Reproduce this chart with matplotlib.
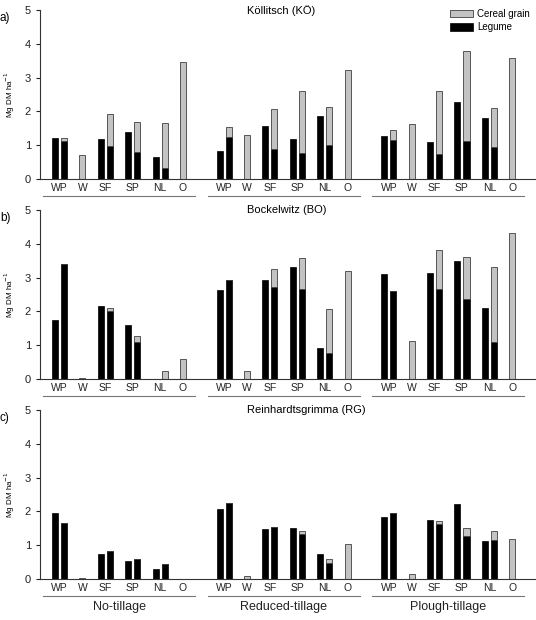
import numpy as np
import matplotlib
matplotlib.use("Agg")
import matplotlib.pyplot as plt

plt.rcParams['font.family'] = ['Liberation Sans', 'DejaVu Sans']

# categories
sites = ["Köllitsch (KÖ)", "Bockelwitz (BO)", "Reinhardtsgrimma (RG)"]
panel_tags = ["a)", "b)", "c)"]
tillages = ["No-tillage", "Reduced-tillage", "Plough-tillage"]
crop_labels = ["WP", "W", "SF", "SP", "NL", "O"]

# legume crops (WP, SF, SP, NL): sole legume, intercrop legume, intercrop cereal part
# cereal crops (W, O): sole cereal
# one row per tillage (no, reduced, plough)
ko_sole_leg = [[1.22, 1.18, 1.38, 0.66], [0.84, 1.57, 1.17, 1.85], [1.27, 1.08, 2.29, 1.80]]
ko_ic_leg = [[1.11, 0.99, 0.81, 0.33], [1.25, 0.89, 0.78, 1.02], [1.15, 0.73, 1.12, 0.96]]
ko_ic_cer = [[0.11, 0.93, 0.88, 1.34], [0.29, 1.19, 1.82, 1.10], [0.30, 1.86, 2.68, 1.14]]
ko_sole_cer = [[0.72, 3.46], [1.30, 3.22], [1.62, 3.59]]

bo_sole_leg = [[1.75, 2.16, 1.61, 0.0], [2.62, 2.92, 3.30, 0.92], [3.12, 3.13, 3.48, 2.11]]
bo_ic_leg = [[3.40, 2.00, 1.10, 0.0], [2.92, 2.73, 2.66, 0.76], [2.59, 2.66, 2.38, 1.08]]
bo_ic_cer = [[0.0, 0.09, 0.16, 0.24], [0.0, 0.52, 0.93, 1.31], [0.0, 1.17, 1.23, 2.22]]
bo_sole_cer = [[0.03, 0.59], [0.25, 3.20], [1.13, 4.33]]

rg_sole_leg = [[1.96, 0.73, 0.52, 0.30], [2.08, 1.49, 1.52, 0.74], [1.84, 1.74, 2.22, 1.13]]
rg_ic_leg = [[1.67, 0.83, 0.58, 0.43], [2.26, 1.53, 1.33, 0.46], [1.96, 1.63, 1.28, 1.15]]
rg_ic_cer = [[0.0, 0.0, 0.0, 0.0], [0.0, 0.0, 0.09, 0.12], [0.0, 0.10, 0.23, 0.27]]
rg_sole_cer = [[0.02, 0.0], [0.10, 1.05], [0.14, 1.17]]

all_data = [
    (ko_sole_leg, ko_ic_leg, ko_ic_cer, ko_sole_cer),
    (bo_sole_leg, bo_ic_leg, bo_ic_cer, bo_sole_cer),
    (rg_sole_leg, rg_ic_leg, rg_ic_cer, rg_sole_cer),
]

# slot layout inside one tillage block
leg_slots = np.array([0, 5, 8, 11])
cer_slots = np.array([3, 14])
label_slots = [0.5, 3, 5.5, 8.5, 11.5, 14]
block = 18
bw = 0.66
grey = "#c3c3c3"

fig = plt.figure(figsize=(5.36, 6.2), dpi=100)
tops = [10, 210, 410]
for i in range(3):
    top = 1 - tops[i] / 620
    ax = fig.add_axes([40 / 536, top - 169 / 620, 496 / 536, 169 / 620])
    sole_leg, ic_leg, ic_cer, sole_cer = all_data[i]
    for t in range(3):
        off = t * block
        ax.bar(leg_slots + off, sole_leg[t], bw, color="black", edgecolor="black", lw=0.5)
        ax.bar(leg_slots + 1 + off, ic_leg[t], bw, color="black", edgecolor="black", lw=0.5)
        ax.bar(leg_slots + 1 + off, ic_cer[t], bw, bottom=ic_leg[t], color=grey,
               edgecolor="#404040", lw=0.6)
        ax.bar(cer_slots + off, sole_cer[t], bw, color=grey, edgecolor="#404040", lw=0.6)
        # crop names
        for s, lab in zip(label_slots, crop_labels):
            ax.text(s + off, -0.055, lab, transform=ax.get_xaxis_transform(),
                    ha="center", va="center", fontsize=7.5, color="#222222")
        ax.plot([off - 1.3, off + 15.3], [-0.102, -0.102], color="#777777", lw=0.8,
                transform=ax.get_xaxis_transform(), clip_on=False)
        if i == 2:
            ax.text(off + 7, -0.165, tillages[t], transform=ax.get_xaxis_transform(),
                    ha="center", va="center", fontsize=9, color="#222222")

    ax.set_xlim(-1.64, 52.6)
    ax.set_ylim(0, 5)
    ax.set_yticks(range(6))
    ax.set_xticks([])
    ax.spines["top"].set_visible(False)
    ax.spines["right"].set_visible(False)
    ax.spines["left"].set_color("#333333")
    ax.spines["bottom"].set_color("#333333")
    ax.tick_params(axis="y", labelsize=8, length=3, colors="#222222")
    ax.set_ylabel("Mg DM ha$^{-1}$", fontsize=5.8)
    ax.yaxis.set_label_coords(-0.046, 0.5)
    ax.text(0.417, 1.03, sites[i], transform=ax.transAxes, ha="left", va="top", fontsize=8)
    fig.text(0.0, top - 0.004, panel_tags[i], ha="left", va="top", fontsize=8.5)
    if i == 0:
        ax.bar([0], [0], color=grey, edgecolor="#404040", lw=0.6, label="Cereal grain")
        ax.bar([0], [0], color="black", edgecolor="black", lw=0.5, label="Legume")
        ax.legend(loc="upper right", bbox_to_anchor=(1.0, 1.04), frameon=False, fontsize=7,
                  handlelength=2.3, handleheight=0.8, handletextpad=0.5, labelspacing=0.35,
                  borderaxespad=0.2)

fig.savefig("out.png", dpi=100)
